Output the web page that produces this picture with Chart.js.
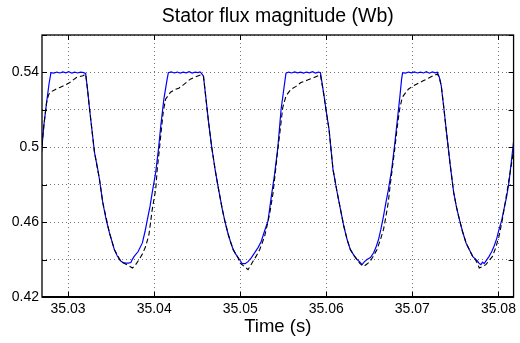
<!DOCTYPE html>
<html>
<head>
<meta charset="utf-8">
<script src="https://cdn.jsdelivr.net/npm/chart.js@4.4.1/dist/chart.umd.min.js"></script>
<style>
  html, body { margin: 0; padding: 0; background: #fff; }
  #wrap { width: 520px; height: 343px; position: relative; }
</style>
</head>
<body>
<div id="wrap"><canvas id="c" width="520" height="343"></canvas></div>
<script>
// ---- Data ----
const chartTitle = 'Stator flux magnitude (Wb)';
const xAxisTitle = 'Time (s)';
const xTickValues = [35.03, 35.04, 35.05, 35.06, 35.07, 35.08];
const xTickLabels = ['35.03', '35.04', '35.05', '35.06', '35.07', '35.08'];
const yTickValues = [0.42, 0.44, 0.46, 0.48, 0.50, 0.52, 0.54, 0.56];
const yTickLabels = ['0.42', '', '0.46', '', '0.5', '', '0.54', ''];
const xRange = [35.02697, 35.08176];
const yRange = [0.42, 0.56];

// estimated flux (blue solid)
const timeEst = [
35.02674,35.02697,35.02720,35.02751,35.02778,35.02801,35.02835,35.02870,35.02905,35.02939,
35.02974,35.03008,35.03043,35.03077,35.03112,35.03146,35.03181,35.03204,35.03227,35.03250,
35.03307,35.03345,35.03365,35.03403,35.03440,35.03480,35.03538,35.03572,35.03615,35.03641,
35.03672,35.03699,35.03730,35.03745,35.03768,35.03814,35.03863,35.03894,35.03921,35.03952,
35.03978,35.04018,35.04050,35.04079,35.04113,35.04151,35.04165,35.04199,35.04234,35.04268,
35.04303,35.04337,35.04372,35.04407,35.04441,35.04476,35.04510,35.04533,35.04550,35.04573,
35.04600,35.04631,35.04669,35.04708,35.04738,35.04766,35.04792,35.04823,35.04861,35.04890,
35.04919,35.04948,35.04976,35.04999,35.05022,35.05057,35.05091,35.05126,35.05169,35.05207,
35.05245,35.05281,35.05322,35.05360,35.05399,35.05437,35.05475,35.05514,35.05532,35.05563,
35.05598,35.05632,35.05667,35.05701,35.05736,35.05771,35.05805,35.05840,35.05874,35.05909,
35.05932,35.05974,35.06001,35.06032,35.06078,35.06127,35.06165,35.06204,35.06242,35.06280,
35.06323,35.06358,35.06386,35.06415,35.06444,35.06473,35.06513,35.06550,35.06576,35.06607,
35.06634,35.06665,35.06691,35.06722,35.06760,35.06795,35.06829,35.06856,35.06875,35.06887,
35.06922,35.06956,35.06991,35.07025,35.07060,35.07094,35.07129,35.07163,35.07198,35.07232,
35.07267,35.07290,35.07313,35.07336,35.07365,35.07393,35.07439,35.07480,35.07514,35.07547,
35.07583,35.07624,35.07664,35.07701,35.07727,35.07758,35.07773,35.07796,35.07816,35.07834,
35.07862,35.07892,35.07923,35.07949,35.07980,35.08007,35.08038,35.08064,35.08096,35.08122,
35.08153,35.08188,35.08211
];
const fluxEst = [
0.4882,0.5005,0.5123,0.5241,0.5337,0.5399,0.5396,0.5402,0.5397,0.5403,
0.5398,0.5404,0.5396,0.5401,0.5397,0.5402,0.5399,0.5395,0.5305,0.5203,
0.4973,0.4882,0.4828,0.4705,0.4619,0.4544,0.4453,0.4419,0.4391,0.4384,
0.4381,0.4381,0.4384,0.4400,0.4417,0.4443,0.4489,0.4550,0.4614,0.4684,
0.4759,0.4866,0.4989,0.5123,0.5257,0.5364,0.5399,0.5403,0.5397,0.5402,
0.5396,0.5401,0.5398,0.5404,0.5397,0.5402,0.5399,0.5403,0.5395,0.5380,
0.5268,0.5139,0.5000,0.4882,0.4802,0.4732,0.4668,0.4603,0.4534,0.4491,
0.4453,0.4429,0.4411,0.4395,0.4378,0.4378,0.4389,0.4408,0.4437,0.4464,
0.4498,0.4550,0.4605,0.4732,0.4855,0.4998,0.5203,0.5337,0.5396,0.5402,
0.5397,0.5403,0.5398,0.5401,0.5396,0.5402,0.5398,0.5404,0.5397,0.5402,
0.5398,0.5275,0.5187,0.5096,0.4882,0.4757,0.4668,0.4578,0.4507,0.4453,
0.4421,0.4400,0.4389,0.4373,0.4389,0.4400,0.4411,0.4436,0.4464,0.4507,
0.4561,0.4632,0.4700,0.4775,0.4882,0.5016,0.5160,0.5275,0.5364,0.5399,
0.5396,0.5402,0.5398,0.5403,0.5397,0.5401,0.5397,0.5404,0.5396,0.5403,
0.5398,0.5401,0.5375,0.5328,0.5214,0.5096,0.4909,0.4759,0.4678,0.4614,
0.4550,0.4489,0.4451,0.4417,0.4405,0.4391,0.4381,0.4373,0.4386,0.4378,
0.4397,0.4417,0.4443,0.4471,0.4512,0.4561,0.4609,0.4668,0.4737,0.4811,
0.4935,0.5080,0.5177
];

// reference flux (black dashed)
const timeRef = [
35.02674,35.02697,35.02720,35.02751,35.02772,35.02789,35.02847,35.02905,35.02962,35.03020,
35.03097,35.03173,35.03204,35.03227,35.03250,35.03307,35.03365,35.03403,35.03480,35.03538,
35.03615,35.03693,35.03748,35.03785,35.03825,35.03866,35.03902,35.03940,35.03978,35.04018,
35.04036,35.04061,35.04084,35.04107,35.04133,35.04190,35.04240,35.04286,35.04343,35.04420,
35.04481,35.04550,35.04573,35.04600,35.04631,35.04669,35.04708,35.04738,35.04766,35.04792,
35.04823,35.04861,35.04890,35.04919,35.04948,35.04976,35.04991,35.05051,35.05091,35.05120,
35.05149,35.05189,35.05226,35.05253,35.05284,35.05310,35.05341,35.05379,35.05410,35.05437,
35.05463,35.05494,35.05532,35.05590,35.05644,35.05705,35.05782,35.05859,35.05932,35.05974,
35.06001,35.06032,35.06078,35.06127,35.06165,35.06204,35.06242,35.06280,35.06323,35.06358,
35.06392,35.06435,35.06473,35.06511,35.06547,35.06588,35.06626,35.06665,35.06691,35.06720,
35.06741,35.06766,35.06795,35.06824,35.06852,35.06875,35.06895,35.06953,35.07002,35.07048,
35.07125,35.07186,35.07240,35.07290,35.07313,35.07336,35.07365,35.07393,35.07439,35.07480,
35.07514,35.07547,35.07583,35.07624,35.07664,35.07701,35.07727,35.07758,35.07777,35.07814,
35.07854,35.07892,35.07931,35.07969,35.08007,35.08046,35.08073,35.08104,35.08142,35.08165,
35.08188,35.08211
];
const fluxRef = [
0.4882,0.5005,0.5123,0.5241,0.5278,0.5293,0.5308,0.5320,0.5332,0.5346,
0.5373,0.5382,0.5391,0.5305,0.5203,0.4973,0.4828,0.4705,0.4544,0.4453,
0.4388,0.4370,0.4355,0.4373,0.4400,0.4432,0.4471,0.4534,0.4668,0.4775,
0.4882,0.4989,0.5096,0.5193,0.5257,0.5294,0.5308,0.5316,0.5335,0.5364,
0.5377,0.5388,0.5380,0.5268,0.5139,0.5000,0.4882,0.4802,0.4732,0.4668,
0.4603,0.4534,0.4491,0.4453,0.4429,0.4408,0.4384,0.4362,0.4346,0.4368,
0.4391,0.4421,0.4453,0.4486,0.4525,0.4577,0.4641,0.4748,0.4873,0.4989,
0.5087,0.5212,0.5275,0.5310,0.5324,0.5346,0.5359,0.5373,0.5388,0.5275,
0.5187,0.5096,0.4882,0.4757,0.4668,0.4578,0.4507,0.4453,0.4421,0.4400,
0.4378,0.4364,0.4376,0.4391,0.4419,0.4453,0.4502,0.4561,0.4625,0.4705,
0.4792,0.4882,0.4989,0.5107,0.5203,0.5251,0.5275,0.5310,0.5326,0.5337,
0.5355,0.5369,0.5382,0.5391,0.5375,0.5328,0.5214,0.5096,0.4909,0.4759,
0.4678,0.4614,0.4550,0.4489,0.4451,0.4417,0.4405,0.4378,0.4355,0.4362,
0.4373,0.4395,0.4417,0.4464,0.4525,0.4614,0.4689,0.4775,0.4882,0.4951,
0.5026,0.5107
];

// ---- Chart ----
const FONT = "'Liberation Sans', Arial, Helvetica, sans-serif";
const toPts = (xs, ys) => xs.map((x, i) => ({ x: x, y: ys[i] }));

const matlabBox = {
  id: 'matlabBox',
  afterDatasetsDraw(chart) {
    const { ctx, chartArea: a, scales } = chart;
    ctx.save();
    ctx.strokeStyle = '#000';
    ctx.lineWidth = 1;
    ctx.setLineDash([]);
    const tl = 5;
    ctx.beginPath();
    xTickValues.forEach(v => {
      const p = Math.round(scales.x.getPixelForValue(v)) + 0.5;
      ctx.moveTo(p, a.bottom); ctx.lineTo(p, a.bottom - tl);
      ctx.moveTo(p, a.top); ctx.lineTo(p, a.top + tl);
    });
    yTickValues.forEach(v => {
      const p = Math.round(scales.y.getPixelForValue(v)) + 0.5;
      ctx.moveTo(a.left, p); ctx.lineTo(a.left + tl, p);
      ctx.moveTo(a.right, p); ctx.lineTo(a.right - tl, p);
    });
    ctx.stroke();
    ctx.lineWidth = 1.3;
    ctx.strokeRect(a.left, a.top, a.right - a.left, a.bottom - a.top);
    ctx.lineWidth = 2;
    ctx.beginPath();
    ctx.moveTo(a.left, a.bottom); ctx.lineTo(a.right, a.bottom);
    ctx.stroke();
    // title centred over plot area
    ctx.fillStyle = '#000';
    ctx.font = '19.5px ' + FONT;
    ctx.textAlign = 'center';
    ctx.textBaseline = 'middle';
    ctx.fillText(chartTitle, (a.left + a.right) / 2, 16.5);
    ctx.restore();
  }
};

new Chart(document.getElementById('c'), {
  type: 'line',
  data: {
    datasets: [
      {
        label: 'reference',
        data: toPts(timeRef, fluxRef),
        borderColor: '#000000',
        borderWidth: 1.1,
        borderDash: [5, 3],
        pointRadius: 0,
        tension: 0,
        fill: false
      },
      {
        label: 'estimated',
        data: toPts(timeEst, fluxEst),
        borderColor: '#0000ff',
        borderWidth: 1.2,
        pointRadius: 0,
        tension: 0,
        fill: false
      }
    ]
  },
  options: {
    responsive: false,
    animation: false,
    parsing: true,
    layout: { padding: { top: 35, right: 2, left: 0, bottom: 0 } },
    plugins: {
      legend: { display: false },
      title: { display: false },
      tooltip: { enabled: false }
    },
    scales: {
      x: {
        type: 'linear',
        min: xRange[0],
        max: xRange[1],
        afterBuildTicks: s => { s.ticks = xTickValues.map(v => ({ value: v })); },
        afterFit: s => { s.height = 46; },
        ticks: {
          autoSkip: false,
          maxRotation: 0,
          padding: 4,
          color: '#000',
          font: { family: FONT, size: 14 },
          callback: (v, i) => xTickLabels[i]
        },
        grid: { color: 'rgba(0,0,0,0.55)', lineWidth: 1, drawTicks: false },
        border: { display: false, dash: [1, 3] },
        title: {
          display: true,
          text: xAxisTitle,
          color: '#000',
          font: { family: FONT, size: 18.5 },
          padding: { top: 0, bottom: 5 }
        }
      },
      y: {
        type: 'linear',
        min: yRange[0],
        max: yRange[1],
        afterBuildTicks: s => { s.ticks = yTickValues.map(v => ({ value: v })); },
        afterFit: s => { s.width = 42; },
        ticks: {
          autoSkip: false,
          padding: 3,
          color: '#000',
          font: { family: FONT, size: 14 },
          callback: (v, i) => yTickLabels[i]
        },
        grid: { color: 'rgba(0,0,0,0.55)', lineWidth: 1, drawTicks: false },
        border: { display: false, dash: [1, 3] }
      }
    }
  },
  plugins: [matlabBox]
});
</script>
</body>
</html>
